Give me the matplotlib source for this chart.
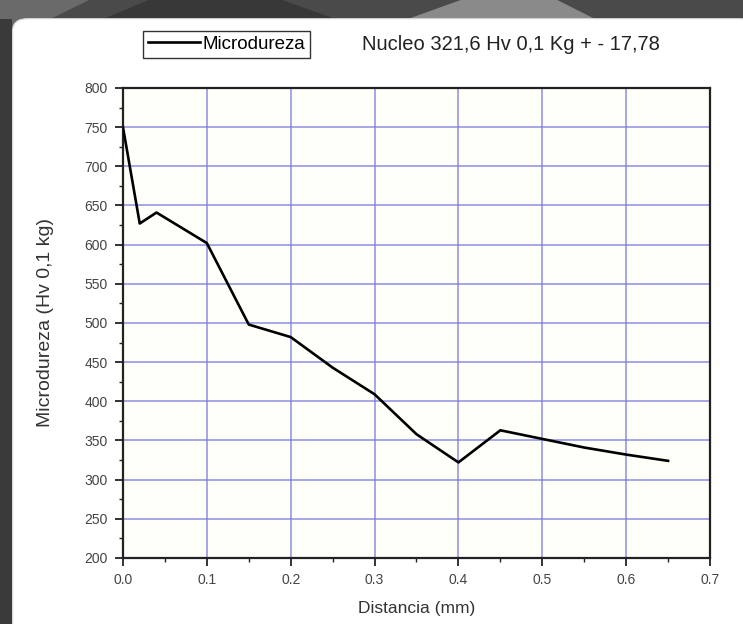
import matplotlib
matplotlib.use("Agg")
import matplotlib.pyplot as plt
from matplotlib.patches import FancyBboxPatch, Polygon
from matplotlib.ticker import MultipleLocator

plt.rcParams['font.family'] = ['Liberation Sans', 'DejaVu Sans']

# data
distancia = [0.0, 0.02, 0.04, 0.10, 0.15, 0.20, 0.25, 0.30, 0.35, 0.40, 0.45, 0.50, 0.55, 0.60, 0.65]
microdureza = [750, 627, 641, 602, 498, 482, 443, 409, 358, 322, 363, 352, 341, 332, 324]

serie_label = 'Microdureza'
titulo = 'Nucleo 321,6 Hv 0,1 Kg + - 17,78'
x_label = 'Distancia (mm)'
y_label = 'Microdureza (Hv 0,1 kg)'

fig = plt.figure(figsize=(7.43, 6.24), dpi=100)
fig.patch.set_facecolor('#4a4a4a')

# background shapes behind the white panel
bg = [
    ([[0, 0.93], [0.12, 1.0], [0.0, 1.0]], '#6a6a6a'),
    ([[0.14, 0.97], [0.2, 1.0], [0.38, 1.0], [0.45, 0.97]], '#383838'),
    ([[0.55, 0.97], [0.62, 1.0], [0.75, 1.0], [0.8, 0.97]], '#8a8a8a'),
    ([[0.0, 0.0], [0.016, 0.0], [0.016, 0.97], [0.0, 0.97]], '#3a3a3a'),
]
for pts, col in bg:
    fig.patches.append(Polygon(pts, closed=True, transform=fig.transFigure,
                               facecolor=col, edgecolor='none', zorder=-3))

panel = FancyBboxPatch((0.017, -0.05), 1.0, 1.02, boxstyle='round,pad=0,rounding_size=0.02',
                       transform=fig.transFigure, facecolor='white', edgecolor='#dddddd',
                       linewidth=0.8, zorder=-2)
fig.patches.append(panel)

ax = fig.add_axes([0.1655, 0.1058, 0.7901, 0.7532])
ax.set_zorder(2)
ax.set_facecolor('#fffffa')

ax.plot(distancia, microdureza, color='black', linewidth=1.9, label=serie_label, zorder=3)

ax.set_xlim(0, 0.7)
ax.set_ylim(200, 800)
ax.xaxis.set_major_locator(MultipleLocator(0.1))
ax.xaxis.set_minor_locator(MultipleLocator(0.05))
ax.yaxis.set_major_locator(MultipleLocator(50))
ax.yaxis.set_minor_locator(MultipleLocator(25))
ax.xaxis.set_major_formatter(plt.FuncFormatter(lambda v, p: f'{v:.1f}'))

ax.grid(True, which='major', color='#7a7ae0', linewidth=1.1, alpha=0.85)
ax.set_axisbelow(True)

for s in ax.spines.values():
    s.set_color('#222222')
    s.set_linewidth(1.6)

ax.tick_params(which='major', direction='out', length=6, width=1.3, colors='#222222',
               labelsize=10, labelcolor='#444444', pad=5, top=False, right=False)
ax.tick_params(which='minor', direction='out', length=3, width=1.0, colors='#222222')

ax.set_xlabel(x_label, fontsize=12.5, color='#333333', labelpad=10)
ax.set_ylabel(y_label, fontsize=14, color='#333333', labelpad=22)

leg = fig.legend(loc='center', bbox_to_anchor=(0.305, 0.929), fontsize=13.5,
                 handlelength=2.8, handletextpad=0.15, borderpad=0.25,
                 fancybox=False, framealpha=1, edgecolor='#333333')
leg.get_frame().set_linewidth(1.0)
leg.set_zorder(5)

fig.text(0.687, 0.929, titulo, ha='center', va='center', fontsize=14.5, color='#222222', zorder=5)

fig.savefig('out.png', dpi=100, facecolor=fig.get_facecolor())
